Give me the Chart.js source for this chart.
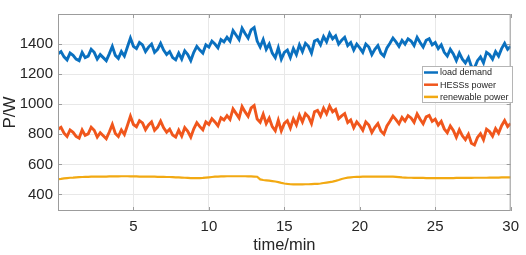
<!DOCTYPE html>
<html>
<head>
<meta charset="utf-8">
<script src="https://cdn.jsdelivr.net/npm/chart.js@4.4.1/dist/chart.umd.min.js"></script>
<style>
  html, body { margin: 0; padding: 0; background: #fff; }
  #wrap { width: 526px; height: 255px; position: relative; }
</style>
</head>
<body>
<div id="wrap"><canvas id="c" width="526" height="255"></canvas></div>
<script>
// sampled every 0.2 min, 0..30 min
const sampleStep = 0.2;

const loadDemand = [
  1335, 1350, 1315, 1295, 1340,  1325, 1300, 1290, 1345, 1310,
  1320, 1365, 1345, 1300, 1330,  1310, 1290, 1335, 1385, 1325,
  1305, 1350, 1320, 1380, 1440,  1385, 1370, 1410, 1395, 1350,
  1380, 1400, 1345, 1365, 1405,  1360, 1330, 1350, 1310, 1295,
  1340, 1300, 1355, 1330, 1290,  1345, 1385, 1360, 1340, 1395,
  1380, 1420, 1400, 1375, 1430,  1415, 1445, 1420, 1490, 1460,
  1430, 1505, 1470, 1440, 1495,  1510, 1420, 1380, 1430, 1365,
  1400, 1340, 1310, 1375, 1300,  1345, 1360, 1310, 1370, 1330,
  1395, 1350, 1405, 1385, 1340,  1420, 1430, 1395, 1450, 1415,
  1470, 1435, 1455, 1400, 1425,  1445, 1390, 1410, 1360, 1400,
  1375, 1345, 1400, 1380, 1330,  1365, 1390, 1340, 1320, 1375,
  1405, 1440, 1415, 1385, 1425,  1400, 1435, 1420, 1390, 1445,
  1410, 1380, 1425, 1435, 1395,  1410, 1370, 1395, 1345, 1320,
  1365, 1335, 1290, 1340, 1300,  1275, 1310, 1250, 1240, 1290,
  1315, 1275, 1345, 1330, 1300,  1350, 1320, 1370, 1405, 1365,
  1385
];

const hessPower = [
  833, 846, 808, 786, 829,  813, 786, 775, 829, 793,
  803, 847, 827, 782, 811,  791, 771, 815, 865, 805,
  785, 829, 799, 859, 920,  865, 850, 891, 876, 831,
  862, 882, 827, 848, 888,  843, 814, 834, 795, 781,
  827, 788, 844, 820, 781,  837, 877, 851, 830, 883,
  866, 904, 882, 856, 910,  895, 924, 899, 969, 939,
  909, 984, 949, 920, 975,  991, 902, 880, 934, 871,
  908, 851, 824, 893, 823,  872, 890, 842, 903, 863,
  928, 883, 937, 917, 871,  950, 959, 922, 974, 936,
  988, 950, 965, 904, 922,  937, 878, 896, 844, 883,
  858, 827, 882, 862, 812,  847, 872, 822, 801, 856,
  887, 922, 898, 870, 912,  888, 924, 909, 880, 935,
  900, 870, 916, 926, 886,  901, 861, 886, 836, 811,
  856, 826, 780, 830, 790,  765, 800, 740, 729, 779,
  804, 764, 834, 818, 788,  838, 808, 857, 892, 852,
  872
];

const renewablePower = [
  502, 504, 507, 509, 511,  512, 514, 515, 516, 517,
  517, 518, 518, 518, 519,  519, 519, 520, 520, 520,
  520, 521, 521, 521, 520,  520, 520, 519, 519, 519,
  518, 518, 518, 517, 517,  517, 516, 516, 515, 514,
  513, 512, 511, 510, 509,  508, 508, 509, 510, 512,
  514, 516, 518, 519, 520,  520, 521, 521, 521, 521,
  521, 521, 521, 520, 520,  519, 518, 500, 496, 494,
  492, 489, 486, 482, 477,  473, 470, 468, 467, 467,
  467, 467, 468, 468, 469,  470, 471, 473, 476, 479,
  482, 485, 490, 496, 503,  508, 512, 514, 516, 517,
  517, 518, 518, 518, 518,  518, 518, 518, 519, 519,
  518, 518, 517, 515, 513,  512, 511, 511, 510, 510,
  510, 510, 509, 509, 509,  509, 509, 509, 509, 509,
  509, 509, 510, 510, 510,  510, 510, 510, 511, 511,
  511, 511, 511, 512, 512,  512, 512, 513, 513, 513,
  513
];

const seriesNames = ['load demand', 'HESSs power', 'renewable power'];
const seriesColors = ['#0a70bf', '#f0561c', '#f2a912'];
const xTicks = [5, 10, 15, 20, 25, 30];
const yTicks = [400, 600, 800, 1000, 1200, 1400];

const toPoints = arr => arr.map((v, i) => ({ x: +(i * sampleStep).toFixed(1), y: v }));

const frameColor = '#9c9c9c';

// MATLAB-style box with inward ticks
const boxPlugin = {
  id: 'box',
  afterDatasetsDraw(chart) {
    const { ctx, chartArea: a, scales } = chart;
    ctx.save();
    ctx.strokeStyle = frameColor;
    ctx.lineWidth = 1;
    ctx.strokeRect(a.left + 0.5, a.top + 0.5, a.right - a.left - 1, a.bottom - a.top - 1);
    ctx.beginPath();
    xTicks.forEach(t => {
      const px = Math.round(scales.x.getPixelForValue(t)) + 0.5;
      ctx.moveTo(px, a.bottom); ctx.lineTo(px, a.bottom - 4);
      ctx.moveTo(px, a.top); ctx.lineTo(px, a.top + 4);
    });
    yTicks.forEach(t => {
      const py = Math.round(scales.y.getPixelForValue(t)) + 0.5;
      ctx.moveTo(a.left, py); ctx.lineTo(a.left + 4, py);
      ctx.moveTo(a.right, py); ctx.lineTo(a.right - 4, py);
    });
    ctx.stroke();
    ctx.restore();
  }
};

const legendPlugin = {
  id: 'boxLegend',
  afterDraw(chart) {
    const { ctx } = chart;
    const bx = 422, by = 66, bw = 90, bh = 36;
    ctx.save();
    ctx.fillStyle = '#fff';
    ctx.fillRect(bx, by, bw, bh);
    ctx.strokeStyle = '#b5b5b5';
    ctx.lineWidth = 1;
    ctx.strokeRect(bx + 0.5, by + 0.5, bw, bh);
    ctx.font = '9px "Liberation Sans", Arial, sans-serif';
    ctx.textBaseline = 'middle';
    chart.data.datasets.forEach((ds, i) => {
      const y = by + 6.5 + i * 12.2;
      ctx.strokeStyle = ds.borderColor;
      ctx.lineWidth = 2.5;
      ctx.beginPath();
      ctx.moveTo(bx + 2, y); ctx.lineTo(bx + 16, y);
      ctx.stroke();
      ctx.fillStyle = '#262626';
      ctx.fillText(ds.label, bx + 18, y + 0.5);
    });
    ctx.restore();
  }
};

const font = { family: '"Liberation Sans", Arial, sans-serif', size: 15 };

new Chart(document.getElementById('c'), {
  type: 'line',
  data: {
    datasets: [
      { label: seriesNames[0], data: toPoints(loadDemand), borderColor: seriesColors[0], borderWidth: 2.9 },
      { label: seriesNames[1], data: toPoints(hessPower), borderColor: seriesColors[1], borderWidth: 2.9 },
      { label: seriesNames[2], data: toPoints(renewablePower), borderColor: seriesColors[2], borderWidth: 2.2 }
    ]
  },
  options: {
    responsive: false,
    animation: false,
    events: [],
    elements: { point: { radius: 0 }, line: { tension: 0 } },
    layout: { padding: { top: 3, right: 10, left: 0, bottom: 0 } },
    plugins: { legend: { display: false }, tooltip: { enabled: false } },
    scales: {
      x: {
        type: 'linear', min: 0, max: 30,
        afterBuildTicks: s => { s.ticks = xTicks.map(v => ({ value: v })); },
        afterFit: s => { s.height = 44; },
        grid: { color: '#e8e8e8', drawTicks: false },
        border: { display: false },
        ticks: { font, color: '#262626', padding: 7, maxRotation: 0, callback: v => String(v) },
        title: { display: true, text: 'time/min', font: { family: font.family, size: 16.5 }, color: '#262626', padding: { top: 0, bottom: 0 } }
      },
      y: {
        min: 290, max: 1600,
        afterBuildTicks: s => { s.ticks = yTicks.map(v => ({ value: v })); },
        afterFit: s => { s.width = 58; },
        grid: { color: '#e8e8e8', drawTicks: false },
        border: { display: false },
        ticks: { font, color: '#262626', padding: 5, callback: v => String(v) },
        title: { display: true, text: 'P/W', font: { family: font.family, size: 17 }, color: '#262626', padding: { top: 0, bottom: 0 } }
      }
    }
  },
  plugins: [boxPlugin, legendPlugin]
});
</script>
</body>
</html>
